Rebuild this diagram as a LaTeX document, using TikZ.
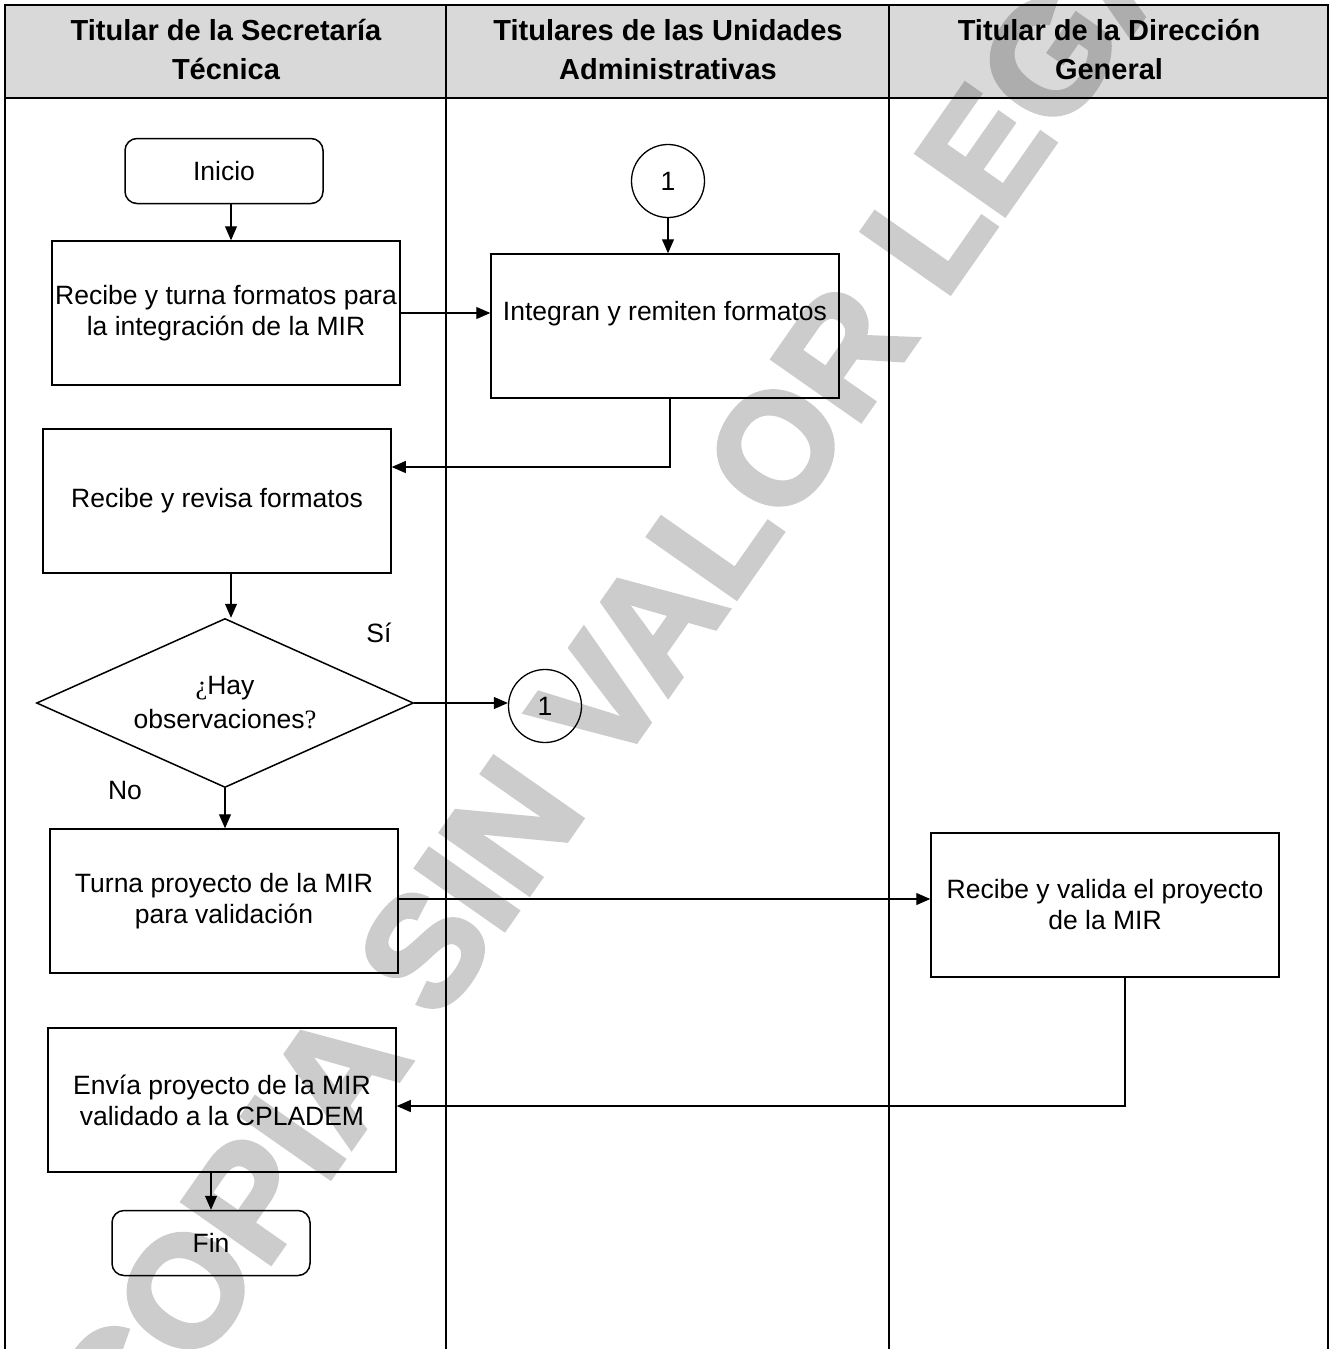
\documentclass[tikz,border=0pt]{standalone}
\usepackage{fontspec}
\setmainfont{Liberation Sans}
\newfontfamily\qfont{Liberation Serif}
\newfontfamily\wmfont{Liberation Sans Bold}[FakeBold=3]
\usetikzlibrary{shapes.geometric,arrows.meta}
\definecolor{hdrgray}{HTML}{D9D9D9}
\begin{document}
\begin{tikzpicture}[x=1pt,y=-1pt,
  txt/.style={font=\fontsize{26.5}{31}\selectfont},
  hdr/.style={font=\bfseries\fontsize{29}{39}\selectfont, align=center},
  box/.style={txt, draw, line width=1.5pt, minimum width=348pt, minimum height=144pt, inner sep=0pt, align=center},
  term/.style={txt, draw, line width=1.5pt, rounded corners=12pt, minimum width=198pt, minimum height=65pt, inner sep=0pt},
  conn/.style={txt, draw, circle, line width=1.3pt, minimum size=73pt, inner sep=0pt},
  flow/.style={line width=1.1pt, -{Triangle[length=14pt,width=12pt]}}]
\useasboundingbox (0,0) rectangle (1330,1349);
% lanes
\fill[hdrgray] (5,5) rectangle (1328,98);
\draw[line width=1.5pt] (446,5) -- (446,1349) (889,5) -- (889,1349);
\draw[line width=2.5pt] (5,1349) -- (5,5) -- (1328,5) -- (1328,1349) (5,98) -- (1328,98);
\node[hdr] (lane1) at (226,50) {Titular de la Secretaría\\Técnica};
\node[hdr] (lane2) at (668,50) {Titulares de las Unidades\\Administrativas};
\node[hdr] (lane3) at (1109,50) {Titular de la Dirección\\General};
% nodes
\node[term] (ini) at (224,171) {Inicio};
\node[box] (act1) at (226,313) {Recibe y turna formatos para\\la integración de la MIR};
\node[conn] (con1) at (668,181) {1};
\node[box] (act2) at (665,326) {Integran y remiten formatos\\~};
\node[box] (act3) at (217,501) {Recibe y revisa formatos};
\node[draw, diamond, line width=1.5pt, aspect=2.23, minimum width=377pt, minimum height=169pt, inner sep=0pt, align=center, font=\fontsize{26.5}{34}\selectfont] (dec) at (225,703) {{\qfont ¿}Hay\\observaciones{\qfont ?}};
\node[txt] (si) at (379,633) {Sí};
\node[txt] (no) at (125,791) {No};
\node[conn] (con2) at (545,706) {1};
\node[box] (act4) at (224,901) {Turna proyecto de la MIR\\para validación};
\node[box] (act5) at (1105,905) {Recibe y valida el proyecto\\de la MIR};
\node[box] (act6) at (222,1100) {Envía proyecto de la MIR\\validado a la CPLADEM};
\node[term] (fin) at (211,1243) {Fin};
% connectors
\draw[flow] ([xshift=7pt]ini.south) -- ([xshift=7pt]ini.south |- act1.north);
\draw[flow] (act1.east) -- (act1.east -| act2.west);
\draw[flow] (con1.south) -- (con1.south |- act2.north);
\draw[flow] ([xshift=5pt]act2.south) |- ([yshift=34pt]act3.east);
\draw[flow] ([xshift=6pt]act3.south -| dec.north) -- ([xshift=6pt]dec.north);
\draw[flow] (dec.east) -- (dec.east -| con2.west);
\draw[flow] (dec.south) -- (dec.south |- act4.north);
\draw[flow] ([yshift=2pt]act4.east) -- ([yshift=2pt]act4.east -| act5.west);
\draw[flow] ([xshift=20pt]act5.south) |- ([yshift=-6pt]act6.east);
\draw[flow] (act6.south -| fin.north) -- (fin.north);
% watermark
\begin{scope}[transparency group, opacity=0.2]
\node[rotate=55, font=\wmfont\fontsize{156}{156}\selectfont] (wm) at (645,635) {COPIA SIN VALOR LEGAL};
\end{scope}
\end{tikzpicture}
\end{document}
